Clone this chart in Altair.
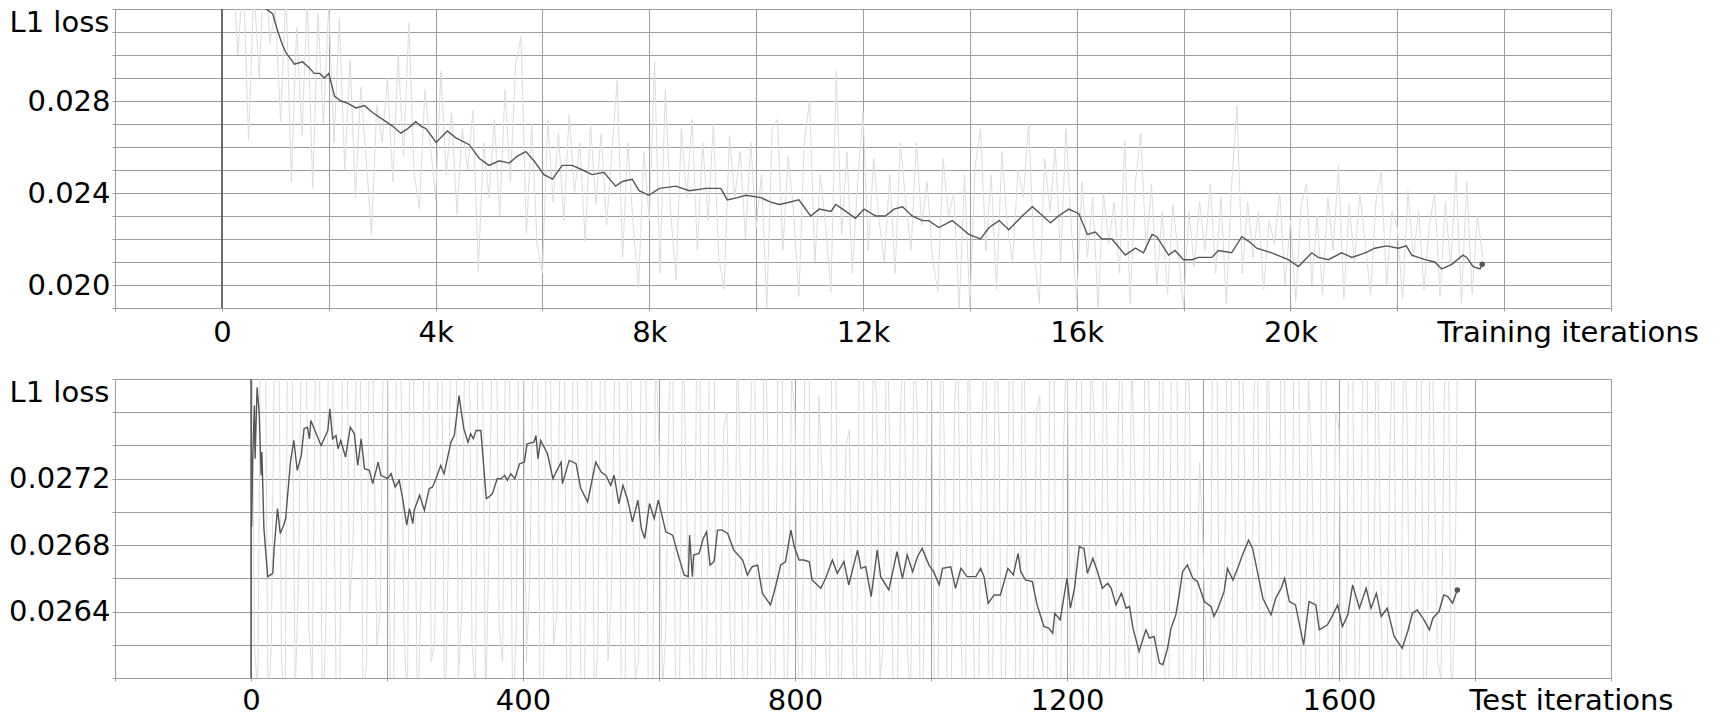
import altair as alt
import pandas as pd

FONT = "DejaVu Sans"
FS = 29
GRID = "#9e9e9e"
RAW_COLOR = "#dcdcdc"
SMOOTH_COLOR = "#555555"
ZERO_COLOR = "#3a3a3a"

# ---------------- Training panel ----------------
TRAIN_X_GRID = [-2000, 0, 2000, 4000, 6000, 8000, 10000, 12000, 14000, 16000,
                18000, 20000, 22000, 24000, 26000]
TRAIN_X_LABELED = [0, 4000, 8000, 12000, 16000, 20000]
TRAIN_Y_GRID = [0.019, 0.020, 0.021, 0.022, 0.023, 0.024, 0.025, 0.026, 0.027,
                0.028, 0.029, 0.030, 0.031, 0.032]
TRAIN_Y_LABELED = [0.020, 0.024, 0.028]

TRAIN_RAW_ITERS = list(range(200, 23700, 100))
TRAIN_RAW = [
    0.0340, 0.0300, 0.0335, 0.0263, 0.0330, 0.0290, 0.0345, 0.0305,
    0.0320, 0.0271, 0.0328, 0.0245, 0.0312, 0.0265, 0.0325, 0.0242, 0.0318, 0.0270,
    0.0322, 0.0262, 0.0316, 0.0250, 0.0298, 0.0238, 0.0286, 0.0255, 0.0222, 0.0278,
    0.0262, 0.0290, 0.0245, 0.0300, 0.0256, 0.0314, 0.0248, 0.0233, 0.0285, 0.0262,
    0.0237, 0.0293, 0.0248, 0.0275, 0.0231, 0.0268, 0.0250, 0.0276, 0.0206, 0.0262,
    0.0238, 0.0272, 0.0230, 0.0285, 0.0245, 0.0296, 0.0308, 0.0222, 0.0270, 0.0218,
    0.0205, 0.0272, 0.0236, 0.0266, 0.0228, 0.0274, 0.0240, 0.0262, 0.0219, 0.0270,
    0.0235, 0.0266, 0.0226, 0.0258, 0.0289, 0.0212, 0.0262, 0.0225, 0.0199, 0.0258,
    0.0228, 0.0297, 0.0205, 0.0285, 0.0232, 0.0202, 0.0268, 0.0238, 0.0272, 0.0215,
    0.0262, 0.0228, 0.0270, 0.0212, 0.0198, 0.0265, 0.0238, 0.0258, 0.0220, 0.0262,
    0.0225, 0.0248, 0.0190, 0.0268, 0.0272, 0.0215, 0.0256, 0.0232, 0.0195, 0.0262,
    0.0280, 0.0210, 0.0248, 0.0226, 0.0197, 0.0293, 0.0222, 0.0258, 0.0205, 0.0245,
    0.0275, 0.0215, 0.0255, 0.0228, 0.0210, 0.0248, 0.0205, 0.0262, 0.0236, 0.0215,
    0.0262, 0.0226, 0.0245, 0.0212, 0.0197, 0.0255, 0.0230, 0.0240, 0.0190, 0.0248,
    0.0190, 0.0252, 0.0268, 0.0215, 0.0248, 0.0198, 0.0258, 0.0226, 0.0210, 0.0250,
    0.0238, 0.0270, 0.0215, 0.0192, 0.0255, 0.0232, 0.0260, 0.0210, 0.0268, 0.0225,
    0.0193, 0.0245, 0.0212, 0.0238, 0.0190, 0.0240, 0.0218, 0.0236, 0.0205, 0.0263,
    0.0192, 0.0245, 0.0266, 0.0215, 0.0244, 0.0200, 0.0232, 0.0196, 0.0235, 0.0214,
    0.0190, 0.0232, 0.0208, 0.0236, 0.0215, 0.0244, 0.0205, 0.0238, 0.0192, 0.0244,
    0.0278, 0.0205, 0.0236, 0.0212, 0.0232, 0.0198, 0.0228, 0.0218, 0.0240, 0.0200,
    0.0228, 0.0193, 0.0235, 0.0244, 0.0200, 0.0230, 0.0196, 0.0238, 0.0215, 0.0252,
    0.0194, 0.0235, 0.0210, 0.0240, 0.0218, 0.0196, 0.0236, 0.0249, 0.0200, 0.0232,
    0.0225, 0.0194, 0.0241, 0.0212, 0.0232, 0.0198, 0.0226, 0.0240, 0.0195, 0.0236,
    0.0208, 0.0249, 0.0192, 0.0245, 0.0196, 0.0230, 0.0212,
]

TRAIN_SMOOTH = [
    (200, 0.0360), (500, 0.0338), (830, 0.0320), (950, 0.0318), (1050, 0.0310),
    (1140, 0.0304), (1200, 0.0301), (1360, 0.0296), (1510, 0.0297), (1610, 0.0295),
    (1730, 0.0292), (1830, 0.0292), (1920, 0.0290), (2000, 0.0292), (2110, 0.0282),
    (2230, 0.0280), (2360, 0.0279), (2510, 0.0277), (2670, 0.0278), (2820, 0.0275),
    (3010, 0.0272), (3200, 0.0269), (3350, 0.0266), (3480, 0.0268), (3630, 0.0271),
    (3730, 0.0269), (3820, 0.0268), (4010, 0.0262), (4220, 0.0267), (4380, 0.0264),
    (4630, 0.0261), (4820, 0.0255), (5000, 0.0252), (5190, 0.0254), (5380, 0.0253),
    (5530, 0.0256), (5690, 0.0258), (5840, 0.0254), (6030, 0.0248), (6190, 0.0246),
    (6370, 0.0252), (6560, 0.0252), (6750, 0.0250), (6930, 0.0248), (7150, 0.0249),
    (7370, 0.0243), (7500, 0.0245), (7680, 0.0246), (7810, 0.0241), (7990, 0.0239),
    (8190, 0.0242), (8500, 0.0243), (8750, 0.0241), (9060, 0.0242), (9340, 0.0242),
    (9460, 0.0237), (9650, 0.0238), (9810, 0.0239), (10090, 0.0238), (10270, 0.0236),
    (10430, 0.0235), (10620, 0.0236), (10800, 0.0237), (11020, 0.0230), (11180, 0.0233),
    (11400, 0.0232), (11490, 0.0235), (11680, 0.0232), (11860, 0.0229), (12020, 0.0233),
    (12240, 0.0230), (12420, 0.0230), (12580, 0.0233), (12740, 0.0234), (12920, 0.0230),
    (13110, 0.0228), (13230, 0.0228), (13420, 0.0225), (13670, 0.0228), (13830, 0.0225),
    (13980, 0.0222), (14200, 0.0220), (14360, 0.0225), (14550, 0.0228), (14730, 0.0224),
    (14980, 0.0230), (15170, 0.0234), (15320, 0.0231), (15510, 0.0227), (15660, 0.0230),
    (15850, 0.0233), (16040, 0.0231), (16200, 0.0222), (16350, 0.0223), (16470, 0.0220),
    (16660, 0.0220), (16910, 0.0213), (17100, 0.0216), (17250, 0.0214), (17410, 0.0222),
    (17500, 0.0221), (17720, 0.0213), (17840, 0.0215), (18000, 0.0211), (18160, 0.0211),
    (18280, 0.0212), (18530, 0.0212), (18650, 0.0215), (18900, 0.0214), (19090, 0.0221),
    (19220, 0.0219), (19370, 0.0216), (19650, 0.0214), (19960, 0.0211), (20150, 0.0208),
    (20400, 0.0214), (20520, 0.0212), (20710, 0.0211), (20960, 0.0214), (21150, 0.0212),
    (21400, 0.0214), (21580, 0.0216), (21800, 0.0217), (22020, 0.0216), (22170, 0.0217),
    (22270, 0.0213), (22520, 0.0211), (22700, 0.0210), (22830, 0.0207), (23020, 0.0209),
    (23230, 0.0213), (23300, 0.0212), (23420, 0.0208), (23550, 0.0207), (23590, 0.0209),
]

# ---------------- Test panel ----------------
TEST_X_GRID = [-200, 0, 200, 400, 600, 800, 1000, 1200, 1400, 1600, 1800, 2000]
TEST_X_LABELED = [0, 400, 800, 1200, 1600]
TEST_Y_GRID = [0.0260, 0.0262, 0.0264, 0.0266, 0.0268, 0.0270, 0.0272, 0.0274,
               0.0276, 0.0278]
TEST_Y_LABELED = [0.0264, 0.0268, 0.0272]

# raw test loss sampled at iterations 0, 10, 20, ...
TEST_RAW_ITERS = list(range(0, 1790, 10))
TEST_RAW = [
    0.0290, 0.0259, 0.0288, 0.0262, 0.0284, 0.0257, 0.0281, 0.0266, 0.0286, 0.0260,
    0.0283, 0.0263, 0.0279, 0.0256, 0.0286, 0.0268, 0.0282, 0.0261, 0.0277, 0.0264,
    0.0284, 0.0260, 0.0280, 0.0258, 0.0275, 0.0265, 0.0287, 0.0262, 0.0283, 0.0267,
    0.0290, 0.0264, 0.0285, 0.0259, 0.0281, 0.0268, 0.0286, 0.0261, 0.0279, 0.0263,
    0.0284, 0.0266, 0.0288, 0.0258, 0.0280, 0.0264, 0.0285, 0.0260, 0.0278, 0.0257,
    0.0283, 0.0262, 0.0279, 0.0265, 0.0286, 0.0259, 0.0276, 0.0261, 0.0282, 0.0256,
    0.0274, 0.0263, 0.0280, 0.0258, 0.0272, 0.0255, 0.0279, 0.0262, 0.0285, 0.0259,
    0.0276, 0.0256, 0.0271, 0.0260, 0.0282, 0.0254, 0.0274, 0.0258, 0.0287, 0.0262,
    0.0276, 0.0257, 0.0283, 0.0261, 0.0272, 0.0255, 0.0280, 0.0263, 0.0275, 0.0258,
    0.0284, 0.0259, 0.0277, 0.0262, 0.0272, 0.0256, 0.0281, 0.0258, 0.0276, 0.0263,
    0.0282, 0.0257, 0.0273, 0.0260, 0.0279, 0.0254, 0.0271, 0.0259, 0.0283, 0.0256,
    0.0275, 0.0261, 0.0280, 0.0255, 0.0270, 0.0258, 0.0277, 0.0253, 0.0284, 0.0257,
    0.0281, 0.0259, 0.0286, 0.0255, 0.0276, 0.0261, 0.0270, 0.0254, 0.0282, 0.0256,
    0.0272, 0.0253, 0.0279, 0.0257, 0.0284, 0.0260, 0.0289, 0.0256, 0.0277, 0.0262,
    0.0268, 0.0256, 0.0282, 0.0259, 0.0287, 0.0262, 0.0276, 0.0254, 0.0281, 0.0258,
    0.0270, 0.0255, 0.0278, 0.0260, 0.0285, 0.0257, 0.0273, 0.0253, 0.0283, 0.0259,
    0.0275, 0.0256, 0.0280, 0.0261, 0.0287, 0.0255, 0.0271, 0.0258, 0.0282, 0.0254,
    0.0276, 0.0259, 0.0284, 0.0262, 0.0273, 0.0260, 0.0286, 0.0263, 0.0279,
]
# raw test loss at the in-between iterations 5, 15, 25, ...
TEST_RAW_MID_ITERS = list(range(5, 1780, 10))
TEST_RAW_MID = [
    0.0262, 0.0287, 0.0258, 0.0283, 0.0261, 0.0289, 0.0259, 0.0284, 0.0263, 0.0280,
    0.0257, 0.0285, 0.0260, 0.0282, 0.0264, 0.0279, 0.0258, 0.0286, 0.0262, 0.0281,
    0.0259, 0.0284, 0.0263, 0.0288, 0.0257, 0.0282, 0.0261, 0.0279, 0.0256, 0.0285,
    0.0260, 0.0283, 0.0262, 0.0287, 0.0258, 0.0281, 0.0263, 0.0284, 0.0257, 0.0286,
    0.0261, 0.0280, 0.0259, 0.0285, 0.0262, 0.0282, 0.0256, 0.0287, 0.0260, 0.0281,
    0.0258, 0.0284, 0.0261, 0.0279, 0.0257, 0.0283, 0.0260, 0.0286, 0.0255, 0.0280,
    0.0259, 0.0277, 0.0256, 0.0282, 0.0261, 0.0278, 0.0254, 0.0283, 0.0258, 0.0275,
    0.0262, 0.0281, 0.0255, 0.0276, 0.0259, 0.0284, 0.0257, 0.0279, 0.0253, 0.0278,
    0.0260, 0.0282, 0.0256, 0.0277, 0.0262, 0.0285, 0.0254, 0.0274, 0.0261, 0.0281,
    0.0255, 0.0279, 0.0260, 0.0283, 0.0257, 0.0276, 0.0262, 0.0280, 0.0254, 0.0278,
    0.0259, 0.0284, 0.0255, 0.0277, 0.0261, 0.0282, 0.0256, 0.0275, 0.0260, 0.0283,
    0.0254, 0.0278, 0.0258, 0.0285, 0.0253, 0.0276, 0.0259, 0.0281, 0.0255, 0.0274,
    0.0260, 0.0283, 0.0254, 0.0279, 0.0258, 0.0287, 0.0253, 0.0275, 0.0261, 0.0280,
    0.0256, 0.0284, 0.0259, 0.0276, 0.0254, 0.0288, 0.0260, 0.0281, 0.0255, 0.0273,
    0.0261, 0.0286, 0.0257, 0.0279, 0.0253, 0.0284, 0.0260, 0.0277, 0.0256, 0.0282,
    0.0254, 0.0281, 0.0259, 0.0287, 0.0255, 0.0278, 0.0261, 0.0283, 0.0254, 0.0276,
    0.0258, 0.0285, 0.0253, 0.0279, 0.0260, 0.0284, 0.0256, 0.0274, 0.0259, 0.0281,
    0.0257, 0.0283, 0.0255, 0.0286, 0.0261, 0.0277, 0.0258, 0.0282,
]

TEST_SMOOTH = [
    (1, 0.02691), (2.5, 0.02732), (5, 0.02764), (6, 0.02732), (9, 0.02775),
    (12, 0.02760), (15, 0.02722), (16, 0.02736), (19, 0.02690), (24.5, 0.02661),
    (32, 0.02663), (34, 0.02678), (39, 0.02702), (43, 0.02687), (48, 0.02692),
    (51, 0.02696), (58, 0.02730), (63, 0.02743), (68, 0.02725), (74, 0.02734),
    (78, 0.02750), (83, 0.02751), (86, 0.02744), (88, 0.02755), (103, 0.02740),
    (113, 0.02749), (116, 0.02762), (120, 0.02744), (125, 0.02746), (128, 0.02738),
    (132, 0.02743), (139, 0.02733), (146, 0.02751), (152, 0.02747), (157, 0.02728),
    (162, 0.02744), (167, 0.02726), (174, 0.02725), (179, 0.02717), (184, 0.02725),
    (187, 0.02730), (191, 0.02722), (201, 0.02720), (206, 0.02723), (212, 0.02715),
    (218, 0.02719), (223, 0.02708), (229, 0.02692), (233, 0.02702), (238, 0.02693),
    (240, 0.02701), (248, 0.02710), (255, 0.02701), (262, 0.02714), (267, 0.02715),
    (272, 0.02720), (279, 0.02728), (284, 0.02723), (294, 0.02742), (299, 0.02746),
    (306, 0.02770), (309, 0.02761), (313, 0.02750), (319, 0.02742), (323, 0.02747),
    (327, 0.02744), (331, 0.02749), (338, 0.02749), (346, 0.02708), (350, 0.02709),
    (355, 0.02711), (362, 0.02720), (368, 0.02720), (373, 0.02722), (377, 0.02719),
    (382, 0.02723), (388, 0.02720), (395, 0.02729), (402, 0.02730), (406, 0.02741),
    (416, 0.02742), (419, 0.02746), (422, 0.02732), (426, 0.02743), (436, 0.02735),
    (444, 0.02720), (456, 0.02730), (458, 0.02717), (468, 0.02731), (478, 0.02729),
    (485, 0.02714), (495, 0.02706), (507, 0.02730), (515, 0.02724), (522, 0.02722),
    (529, 0.02716), (534, 0.02722), (541, 0.02705), (547, 0.02716), (554, 0.02707),
    (561, 0.02694), (569, 0.02707), (574, 0.02690), (579, 0.02684), (586, 0.02705),
    (593, 0.02696), (599, 0.02707), (602, 0.02702), (610, 0.02688), (620, 0.02686),
    (629, 0.02673), (637, 0.02662), (643, 0.02661), (645, 0.02686), (649, 0.02661),
    (651, 0.02674), (659, 0.02675), (665, 0.02684), (670, 0.02688), (675, 0.02668),
    (681, 0.02670), (686, 0.02689), (693, 0.02689), (701, 0.02687), (710, 0.02677),
    (723, 0.02671), (730, 0.02662), (737, 0.02667), (745, 0.02668), (752, 0.02651),
    (764, 0.02644), (772, 0.02656), (779, 0.02668), (786, 0.02670), (794, 0.02689),
    (799, 0.02679), (806, 0.02671), (813, 0.02671), (821, 0.02670), (825, 0.02659),
    (838, 0.02654), (845, 0.02660), (855, 0.02671), (862, 0.02663), (872, 0.02670),
    (879, 0.02656), (892, 0.02677), (897, 0.02666), (904, 0.02667), (912, 0.02649),
    (921, 0.02677), (926, 0.02661), (938, 0.02653), (950, 0.02676), (958, 0.02660),
    (965, 0.02674), (973, 0.02664), (980, 0.02673), (987, 0.02678), (997, 0.02668),
    (1004, 0.02664), (1012, 0.02656), (1017, 0.02666), (1029, 0.02667), (1036, 0.02654),
    (1044, 0.02666), (1053, 0.02661), (1066, 0.02661), (1073, 0.02666), (1078, 0.02661),
    (1084, 0.02645), (1093, 0.02650), (1102, 0.02650), (1113, 0.02666), (1121, 0.02662),
    (1128, 0.02675), (1132, 0.02664), (1139, 0.02659), (1149, 0.02658), (1156, 0.02644),
    (1166, 0.02631), (1173, 0.02630), (1179, 0.02627), (1182, 0.02639), (1190, 0.02635),
    (1196, 0.02650), (1200, 0.02660), (1205, 0.02642), (1211, 0.02654), (1218, 0.02679),
    (1225, 0.02678), (1230, 0.02663), (1238, 0.02672), (1245, 0.02664), (1252, 0.02654),
    (1260, 0.02657), (1265, 0.02654), (1272, 0.02644), (1280, 0.02651), (1287, 0.02642),
    (1292, 0.02643), (1297, 0.02630), (1306, 0.02616), (1316, 0.02629), (1321, 0.02624),
    (1328, 0.02625), (1336, 0.02609), (1341, 0.02608), (1348, 0.02618), (1353, 0.02630),
    (1360, 0.02638), (1365, 0.02650), (1370, 0.02664), (1377, 0.02668), (1385, 0.02660),
    (1392, 0.02658), (1402, 0.02646), (1412, 0.02643), (1416, 0.02637), (1422, 0.02642),
    (1431, 0.02652), (1436, 0.02666), (1444, 0.02659), (1451, 0.02666), (1458, 0.02674),
    (1467, 0.02683), (1473, 0.02678), (1480, 0.02664), (1488, 0.02648), (1500, 0.02638),
    (1507, 0.02648), (1515, 0.02654), (1520, 0.02660), (1527, 0.02646), (1536, 0.02644),
    (1541, 0.02634), (1548, 0.02620), (1556, 0.02646), (1566, 0.02644), (1571, 0.02629),
    (1583, 0.02632), (1591, 0.02638), (1598, 0.02644), (1605, 0.02631), (1613, 0.02638),
    (1620, 0.02656), (1630, 0.02642), (1640, 0.02654), (1647, 0.02642), (1655, 0.02651),
    (1662, 0.02637), (1671, 0.02642), (1681, 0.02625), (1693, 0.02618), (1701, 0.02628),
    (1708, 0.02639), (1715, 0.02641), (1725, 0.02635), (1733, 0.02629), (1738, 0.02636),
    (1747, 0.02640), (1754, 0.02650), (1760, 0.02649), (1767, 0.02645), (1774, 0.02653),
]

PLOT_W = 1496
PLOT_H = 299
TICK = 3
YLABEL_PAD = 2
Y_EXTENT = 106


def in_list_expr(values):
    return "indexof([" + ",".join(repr(v) for v in values) + "], datum.value) >= 0"


def panel(raw_x, raw_y, smooth, xdom, ydom, xgrid, ygrid, xlabeled, ylabeled,
          xlabel_expr, yfmt, xtitle, xtitle_x, xlabel_pad):
    raw_df = pd.DataFrame({"it": raw_x, "loss": raw_y}).sort_values("it")
    sm_df = pd.DataFrame(smooth, columns=["it", "loss"])
    end_df = sm_df.tail(1)

    xtest = in_list_expr(xlabeled)
    ytest = in_list_expr(ylabeled)

    xs = alt.Scale(domain=xdom, nice=False, zero=False)
    ys = alt.Scale(domain=ydom, nice=False, zero=False)
    xaxis = alt.Axis(
        values=xgrid, tickCount=200, grid=True,
        labelExpr="(" + xtest + ") ? " + xlabel_expr + " : ''",
        labelFontSize={"condition": {"test": xtest, "value": FS}, "value": 0},
        labelOverlap=False, labelFlush=False, labelPadding=xlabel_pad,
        labelBaseline="top",
        title=xtitle, titleX=xtitle_x, titleY=TICK + xlabel_pad,
        titleAlign="left", titleBaseline="top", titleAngle=0,
    )
    yaxis = alt.Axis(
        values=ygrid, tickCount=200, grid=True,
        labelExpr="(" + ytest + ") ? format(datum.value, '" + yfmt + "') : ''",
        labelFontSize={"condition": {"test": ytest, "value": FS}, "value": 0},
        labelOverlap=False, labelFlush=False, labelPadding=YLABEL_PAD,
        title="L1 loss", titleX=-Y_EXTENT, titleY=-1, titleAngle=0,
        titleAlign="left", titleBaseline="top",
        minExtent=Y_EXTENT, maxExtent=Y_EXTENT,
    )
    raw = alt.Chart(raw_df).mark_line(
        color=RAW_COLOR, strokeWidth=1, clip=True
    ).encode(
        x=alt.X("it:Q", scale=xs, axis=xaxis),
        y=alt.Y("loss:Q", scale=ys, axis=yaxis),
    )
    zero = alt.Chart(pd.DataFrame({"it": [0]})).mark_rule(
        color=ZERO_COLOR, strokeWidth=1.2
    ).encode(x=alt.X("it:Q"))
    sm = alt.Chart(sm_df).mark_line(
        color=SMOOTH_COLOR, strokeWidth=1.4, clip=True
    ).encode(x="it:Q", y="loss:Q")
    end = alt.Chart(end_df).mark_point(
        filled=True, size=30, color=SMOOTH_COLOR, opacity=1
    ).encode(x="it:Q", y="loss:Q")
    return alt.layer(raw, zero, sm, end).properties(width=PLOT_W, height=PLOT_H)


top = panel(TRAIN_RAW_ITERS, TRAIN_RAW, TRAIN_SMOOTH, [-2000, 26000], [0.019, 0.032],
            TRAIN_X_GRID, TRAIN_Y_GRID, TRAIN_X_LABELED, TRAIN_Y_LABELED,
            "(datum.value == 0 ? '0' : (datum.value / 1000) + 'k')", ".3f",
            "Training iterations", 1322, 7)
bottom = panel(TEST_RAW_ITERS + TEST_RAW_MID_ITERS, TEST_RAW + TEST_RAW_MID, TEST_SMOOTH,
               [-200, 2000], [0.0260, 0.0278],
               TEST_X_GRID, TEST_Y_GRID, TEST_X_LABELED, TEST_Y_LABELED,
               "('' + datum.value)", ".4f",
               "Test iterations", 1354, 5)

chart = alt.vconcat(top, bottom, spacing=31).properties(
    padding={"left": 0, "top": 0, "right": 0, "bottom": 0}
).configure_axis(
    labelFont=FONT, labelColor="#000000",
    titleFont=FONT, titleFontSize=FS, titleFontWeight="normal", titleColor="#000000",
    gridColor=GRID, gridWidth=1, gridOpacity=1,
    domainColor=GRID, domainWidth=1, tickColor=GRID, tickSize=TICK, tickWidth=1,
).configure_view(stroke=None)

chart.save("out.html", embed_options={"renderer": "svg", "actions": False})
